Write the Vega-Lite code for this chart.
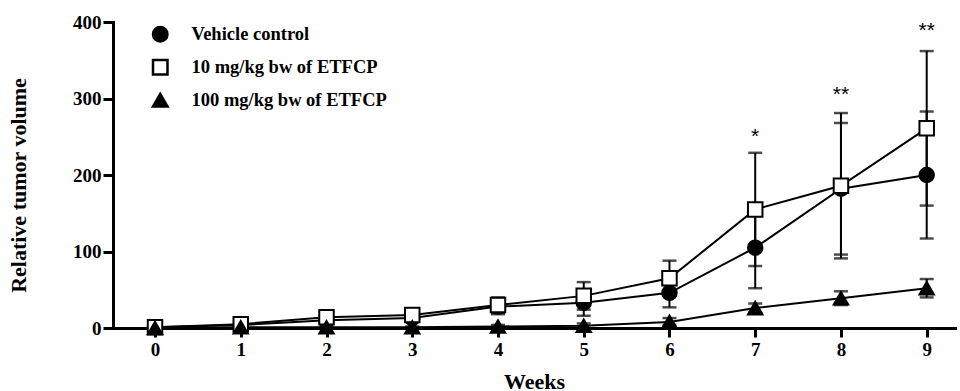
{
  "$schema": "https://vega.github.io/schema/vega-lite/v6.json",
  "width": 842,
  "height": 306,
  "autosize": "none",
  "padding": {"left": 113, "top": 22, "right": 5, "bottom": 63},
  "background": "white",
  "config": {
    "view": {"stroke": null},
    "font": "Liberation Serif",
    "axis": {
      "grid": false,
      "domainColor": "black",
      "domainWidth": 3,
      "domainCap": "square",
      "tickColor": "black",
      "tickWidth": 3,
      "tickSize": 10,
      "labelFont": "Liberation Serif",
      "labelFontWeight": "bold",
      "labelFontSize": 19,
      "labelColor": "black",
      "titleFont": "Liberation Serif",
      "titleFontWeight": "bold",
      "titleFontSize": 22,
      "titleColor": "black"
    },
    "legend": {
      "orient": "none",
      "legendX": 38,
      "legendY": 3,
      "padding": 0,
      "symbolSize": 210,
      "symbolStrokeWidth": 2.5,
      "labelFont": "Liberation Serif",
      "labelFontWeight": "bold",
      "labelFontSize": 18.5,
      "labelColor": "black",
      "labelOffset": 22,
      "rowPadding": 8,
      "labelLimit": 400
    }
  },
  "datasets": {
    "pts": [
      {"week": 0, "group": "Vehicle control", "mean": 1, "lo": 0, "hi": 2},
      {"week": 1, "group": "Vehicle control", "mean": 4, "lo": 2, "hi": 6},
      {"week": 2, "group": "Vehicle control", "mean": 10, "lo": 7, "hi": 13},
      {"week": 3, "group": "Vehicle control", "mean": 13, "lo": 10, "hi": 16},
      {"week": 4, "group": "Vehicle control", "mean": 28, "lo": 18, "hi": 38},
      {"week": 5, "group": "Vehicle control", "mean": 33, "lo": 16, "hi": 50},
      {"week": 6, "group": "Vehicle control", "mean": 46, "lo": 27, "hi": 65},
      {"week": 7, "group": "Vehicle control", "mean": 105, "lo": 52, "hi": 158},
      {"week": 8, "group": "Vehicle control", "mean": 182, "lo": 96, "hi": 268},
      {"week": 9, "group": "Vehicle control", "mean": 200, "lo": 117, "hi": 283},
      {"week": 0, "group": "10 mg/kg bw of ETFCP", "mean": 1, "lo": 0, "hi": 2},
      {"week": 1, "group": "10 mg/kg bw of ETFCP", "mean": 5, "lo": 2, "hi": 8},
      {"week": 2, "group": "10 mg/kg bw of ETFCP", "mean": 14, "lo": 10, "hi": 18},
      {"week": 3, "group": "10 mg/kg bw of ETFCP", "mean": 17, "lo": 13, "hi": 21},
      {"week": 4, "group": "10 mg/kg bw of ETFCP", "mean": 30, "lo": 20, "hi": 40},
      {"week": 5, "group": "10 mg/kg bw of ETFCP", "mean": 42, "lo": 24, "hi": 60},
      {"week": 6, "group": "10 mg/kg bw of ETFCP", "mean": 65, "lo": 42, "hi": 88},
      {"week": 7, "group": "10 mg/kg bw of ETFCP", "mean": 155, "lo": 81, "hi": 229},
      {"week": 8, "group": "10 mg/kg bw of ETFCP", "mean": 186, "lo": 91, "hi": 281},
      {"week": 9, "group": "10 mg/kg bw of ETFCP", "mean": 261, "lo": 160, "hi": 362},
      {"week": 0, "group": "100 mg/kg bw of ETFCP", "mean": 0, "lo": 0, "hi": 1},
      {"week": 1, "group": "100 mg/kg bw of ETFCP", "mean": 1, "lo": 0, "hi": 2},
      {"week": 2, "group": "100 mg/kg bw of ETFCP", "mean": 1, "lo": 0, "hi": 2},
      {"week": 3, "group": "100 mg/kg bw of ETFCP", "mean": 1, "lo": 0, "hi": 2},
      {"week": 4, "group": "100 mg/kg bw of ETFCP", "mean": 2, "lo": 0, "hi": 4},
      {"week": 5, "group": "100 mg/kg bw of ETFCP", "mean": 3, "lo": 0, "hi": 6},
      {"week": 6, "group": "100 mg/kg bw of ETFCP", "mean": 8, "lo": 4, "hi": 13},
      {"week": 7, "group": "100 mg/kg bw of ETFCP", "mean": 26, "lo": 20, "hi": 32},
      {"week": 8, "group": "100 mg/kg bw of ETFCP", "mean": 39, "lo": 30, "hi": 48},
      {"week": 9, "group": "100 mg/kg bw of ETFCP", "mean": 52, "lo": 40, "hi": 64}
    ],
    "stars": [
      {"week": 7, "y": 250, "label": "*"},
      {"week": 8, "y": 304, "label": "**"},
      {"week": 9, "y": 388, "label": "**"}
    ]
  },
  "encoding": {
    "x": {
      "field": "week",
      "type": "quantitative",
      "scale": {"domain": [-0.49, 9.33], "nice": false, "zero": false},
      "axis": {"values": [0, 1, 2, 3, 4, 5, 6, 7, 8, 9], "title": "Weeks", "labelPadding": 3, "titlePadding": 12, "tickSize": 9}
    }
  },
  "layer": [
    {
      "data": {"name": "pts"},
      "mark": {"type": "rule", "color": "black", "strokeWidth": 2},
      "encoding": {
        "y": {"field": "lo", "type": "quantitative", "scale": {"domain": [0, 400], "nice": false}, "axis": {"values": [0, 100, 200, 300, 400], "title": "Relative tumor volume", "labelPadding": 2, "titlePadding": 42, "titleY": 163}},
        "y2": {"field": "hi"},
        "detail": {"field": "group"}
      }
    },
    {
      "data": {"name": "pts"},
      "mark": {"type": "tick", "orient": "horizontal", "color": "black", "size": 14, "thickness": 2.5},
      "encoding": {"y": {"field": "lo", "type": "quantitative"}, "detail": {"field": "group"}}
    },
    {
      "data": {"name": "pts"},
      "mark": {"type": "tick", "orient": "horizontal", "color": "black", "size": 14, "thickness": 2.5},
      "encoding": {"y": {"field": "hi", "type": "quantitative"}, "detail": {"field": "group"}}
    },
    {
      "data": {"name": "pts"},
      "mark": {"type": "line", "color": "black", "strokeWidth": 2},
      "encoding": {"y": {"field": "mean", "type": "quantitative"}, "detail": {"field": "group"}}
    },
    {
      "data": {"name": "pts"},
      "mark": {"type": "point", "stroke": "black", "strokeWidth": 2, "opacity": 1, "size": 210, "filled": false},
      "encoding": {
        "y": {"field": "mean", "type": "quantitative"},
        "shape": {
          "field": "group",
          "type": "nominal",
          "scale": {"domain": ["Vehicle control", "10 mg/kg bw of ETFCP", "100 mg/kg bw of ETFCP"], "range": ["circle", "square", "triangle-up"]},
          "legend": {
            "title": null,
            "encode": {
              "symbols": {
                "stroke": {"value": "black"},
                "strokeWidth": {"value": 2.5}
              }
            }
          }
        },
        "fill": {
          "field": "group",
          "type": "nominal",
          "scale": {"domain": ["Vehicle control", "10 mg/kg bw of ETFCP", "100 mg/kg bw of ETFCP"], "range": ["black", "white", "black"]},
          "legend": null
        }
      }
    },
    {
      "data": {"name": "stars"},
      "mark": {"type": "text", "font": "Liberation Sans", "fontSize": 21, "color": "black", "baseline": "middle", "align": "center"},
      "encoding": {"y": {"field": "y", "type": "quantitative"}, "text": {"field": "label"}}
    }
  ]
}
